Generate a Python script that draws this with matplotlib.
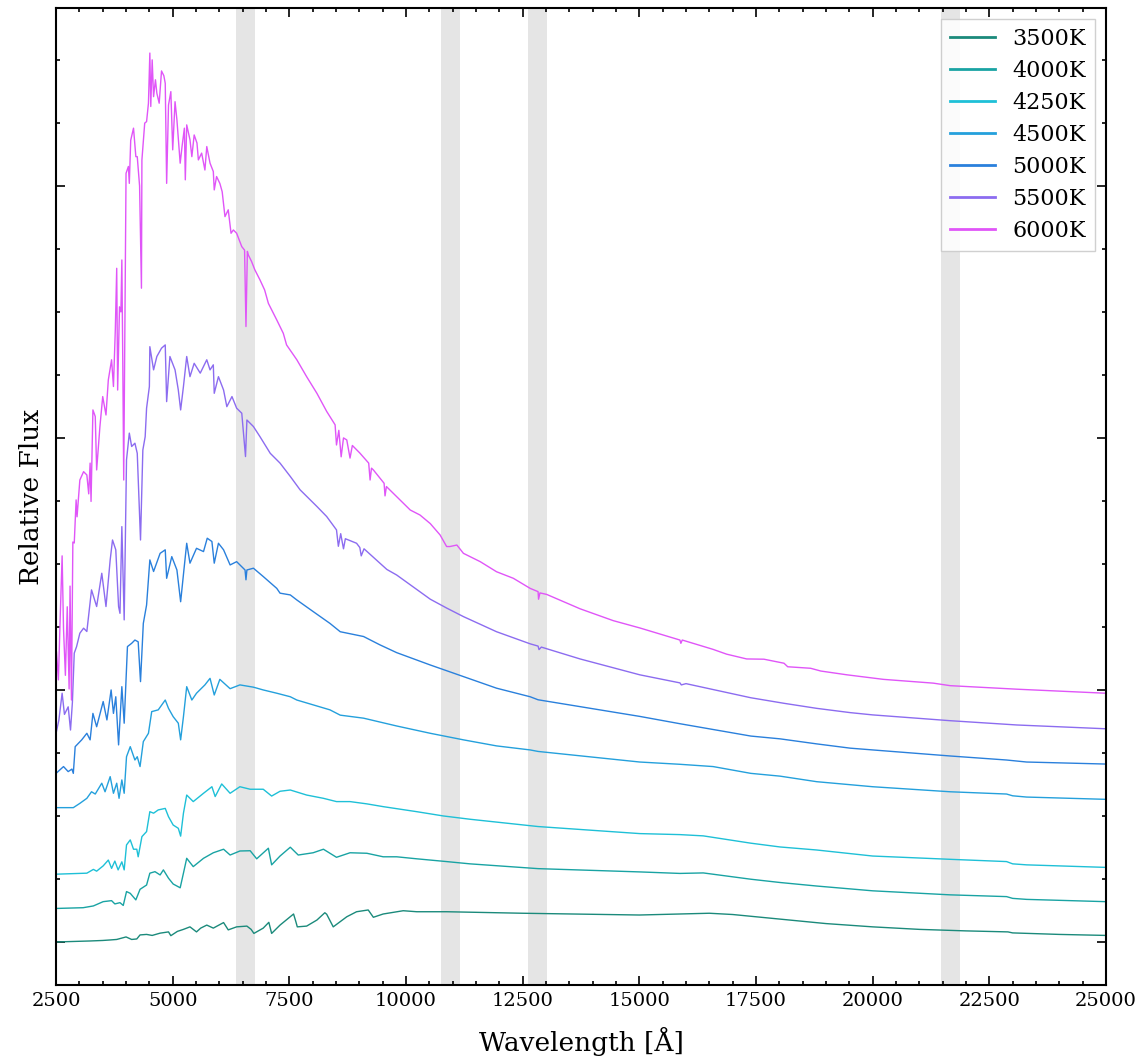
import matplotlib
matplotlib.use("Agg")
import matplotlib.pyplot as plt
from matplotlib.ticker import MultipleLocator, NullFormatter

plt.rcParams['font.family'] = ['DejaVu Serif']

# ---------------- data ----------------
labels = ["3500K", "4000K", "4250K", "4500K", "5000K", "5500K", "6000K"]
colors = ["#1b8a7b", "#19a3a3", "#1ec0d7", "#24a0dc", "#2a80dc", "#8c6cf0", "#e055f8"]

wl_3500 = [2500, 3230, 3500, 3660, 3800, 4000, 4120, 4230, 4300, 4440, 4560, 4730, 4910, 4960, 5100,
           5230, 5370, 5510, 5600, 5730, 5870, 6090, 6190, 6370, 6590, 6680, 6740, 6940, 7060, 7120,
           7300, 7590, 7640, 7670, 7870, 8090, 8260, 8300, 8440, 8730, 8940, 9190, 9300, 9510, 9940,
           10230, 10870, 12500, 15000, 16500, 17000, 18000, 19000, 20000, 21000, 22000, 22900, 23000,
           24000, 25000]
flux_3500 = [0.0, 0.004, 0.006, 0.008, 0.01, 0.02, 0.01, 0.012, 0.028, 0.03, 0.026, 0.035, 0.04, 0.025,
             0.042, 0.05, 0.06, 0.04, 0.055, 0.067, 0.055, 0.077, 0.048, 0.06, 0.063, 0.05, 0.034, 0.055,
             0.078, 0.034, 0.067, 0.111, 0.08, 0.06, 0.063, 0.087, 0.116, 0.11, 0.06, 0.10, 0.12, 0.127,
             0.098, 0.111, 0.124, 0.12, 0.12, 0.114, 0.107, 0.114, 0.109, 0.091, 0.073, 0.06, 0.05, 0.044,
             0.04, 0.036, 0.03, 0.026]

wl_4000 = [2500, 3080, 3300, 3510, 3690, 3760, 3870, 3940, 4010, 4090, 4210, 4300, 4440, 4510, 4620,
           4730, 4800, 4910, 5010, 5160, 5230, 5300, 5440, 5660, 5870, 6090, 6230, 6440, 6660, 6800,
           7050, 7120, 7300, 7520, 7690, 8010, 8230, 8510, 8800, 9160, 9510, 9800, 10230, 10870, 11370,
           12830, 15010, 15870, 16370, 17390, 18015, 18800, 20000, 21660, 22870, 23000, 23300, 24990]
flux_4000 = [0.133, 0.136, 0.143, 0.16, 0.164, 0.151, 0.156, 0.145, 0.2, 0.193, 0.167, 0.209, 0.226,
             0.273, 0.279, 0.266, 0.286, 0.253, 0.23, 0.215, 0.273, 0.332, 0.299, 0.332, 0.354, 0.368,
             0.345, 0.361, 0.362, 0.33, 0.372, 0.306, 0.341, 0.376, 0.345, 0.354, 0.368, 0.336, 0.354,
             0.352, 0.338, 0.338, 0.33, 0.319, 0.31, 0.291, 0.278, 0.272, 0.274, 0.249, 0.236, 0.222,
             0.203, 0.187, 0.18, 0.173, 0.169, 0.16]

wl_4250 = [2500, 3160, 3300, 3370, 3510, 3620, 3690, 3760, 3830, 3910, 3960, 4010, 4090, 4160, 4230,
           4260, 4340, 4440, 4510, 4590, 4690, 4840, 4910, 5010, 5120, 5170, 5230, 5300, 5440, 5660,
           5840, 5910, 6050, 6230, 6440, 6660, 6940, 7120, 7300, 7520, 7870, 8230, 8510, 8800, 9160,
           9510, 9870, 10230, 10800, 11370, 12830, 15010, 15870, 16370, 17390, 18015, 18800, 20000,
           21660, 22870, 23000, 23300, 24990]
flux_4250 = [0.269, 0.273, 0.288, 0.281, 0.302, 0.325, 0.292, 0.321, 0.286, 0.318, 0.286, 0.385, 0.405,
             0.368, 0.368, 0.338, 0.418, 0.438, 0.517, 0.511, 0.524, 0.53, 0.497, 0.464, 0.451, 0.42,
             0.511, 0.583, 0.557, 0.59, 0.616, 0.577, 0.627, 0.59, 0.616, 0.606, 0.606, 0.579, 0.598,
             0.603, 0.583, 0.57, 0.557, 0.557, 0.548, 0.537, 0.527, 0.517, 0.5, 0.487, 0.458, 0.43,
             0.426, 0.421, 0.392, 0.377, 0.365, 0.341, 0.328, 0.319, 0.31, 0.306, 0.296]

wl_4500 = [2500, 2870, 3010, 3160, 3260, 3340, 3480, 3550, 3660, 3730, 3800, 3850, 3910, 3960, 4010,
           4090, 4190, 4240, 4300, 4370, 4480, 4550, 4690, 4840, 4910, 5010, 5120, 5170, 5230, 5300,
           5410, 5510, 5690, 5800, 5890, 6010, 6230, 6440, 6730, 6940, 7230, 7520, 7660, 8370, 8590,
           9090, 9800, 10520, 11230, 11940, 12660, 12830, 15010, 15870, 16580, 17390, 18015, 18800,
           20000, 21660, 22870, 23000, 23300, 24990]
flux_4500 = [0.533, 0.533, 0.55, 0.57, 0.596, 0.587, 0.63, 0.596, 0.656, 0.59, 0.63, 0.57, 0.643, 0.59,
             0.735, 0.775, 0.722, 0.735, 0.696, 0.795, 0.828, 0.914, 0.921, 0.96, 0.927, 0.894, 0.868,
             0.802, 0.894, 1.013, 0.96, 0.987, 1.02, 1.046, 0.98, 1.042, 1.005, 1.02, 1.011, 1.0, 0.987,
             0.973, 0.96, 0.921, 0.9, 0.888, 0.857, 0.828, 0.802, 0.778, 0.762, 0.756, 0.714, 0.705,
             0.696, 0.669, 0.658, 0.636, 0.616, 0.596, 0.587, 0.58, 0.575, 0.566]

wl_5000 = [2500, 2660, 2760, 2840, 2870, 2910, 3050, 3160, 3230, 3290, 3370, 3510, 3590, 3680, 3730,
           3780, 3840, 3910, 3960, 4030, 4120, 4190, 4260, 4310, 4370, 4440, 4510, 4590, 4730, 4840,
           4870, 4980, 5090, 5170, 5240, 5300, 5370, 5510, 5660, 5740, 5840, 5890, 5980, 6090, 6230,
           6370, 6550, 6570, 6590, 6730, 6940, 7230, 7300, 7520, 7660, 8010, 8370, 8590, 9090, 9440,
           9800, 10520, 11230, 11940, 12660, 12830, 15010, 15870, 17390, 18015, 18800, 19520, 20000,
           21660, 22870, 23300, 24990]
flux_5000 = [0.669, 0.696, 0.676, 0.686, 0.669, 0.775, 0.802, 0.828, 0.802, 0.907, 0.854, 0.954, 0.881,
             1.0, 0.907, 0.973, 0.782, 1.013, 0.868, 1.172, 1.185, 1.198, 1.191, 1.033, 1.264, 1.337,
             1.516, 1.47, 1.542, 1.556, 1.443, 1.529, 1.476, 1.35, 1.476, 1.582, 1.503, 1.562, 1.549,
             1.602, 1.589, 1.503, 1.582, 1.556, 1.496, 1.509, 1.476, 1.437, 1.476, 1.483, 1.45, 1.403,
             1.384, 1.377, 1.357, 1.311, 1.264, 1.231, 1.212, 1.179, 1.148, 1.099, 1.053, 1.007, 0.973,
             0.961, 0.895, 0.866, 0.817, 0.806, 0.786, 0.769, 0.762, 0.738, 0.722, 0.714, 0.706]

wl_5500 = [2500, 2560, 2630, 2680, 2760, 2810, 2850, 2890, 2940, 3010, 3090, 3160, 3260, 3370, 3480,
           3570, 3660, 3710, 3780, 3840, 3870, 3910, 3960, 4010, 4070, 4120, 4190, 4240, 4310, 4360,
           4410, 4440, 4500, 4510, 4590, 4660, 4760, 4840, 4870, 4940, 5050, 5120, 5170, 5230, 5300,
           5370, 5460, 5590, 5730, 5800, 5870, 5890, 5980, 6090, 6160, 6270, 6370, 6480, 6560, 6590,
           6730, 6870, 7090, 7300, 7520, 7730, 8090, 8300, 8510, 8550, 8600, 8660, 8700, 8940, 9010,
           9040, 9100, 9440, 9590, 9800, 10520, 10870, 11230, 11940, 12660, 12830, 12850, 12900, 13730,
           15010, 15870, 15900, 16000, 17390, 18100, 18800, 19520, 20000, 21660, 23090, 24990]
flux_5500 = [0.828, 0.88, 0.987, 0.903, 0.933, 0.841, 0.95, 1.146, 1.172, 1.225, 1.245, 1.232, 1.397,
             1.331, 1.463, 1.331, 1.516, 1.595, 1.556, 1.331, 1.304, 1.648, 1.278, 1.913, 2.019, 1.966,
             1.979, 1.939, 1.595, 1.952, 2.005, 2.118, 2.204, 2.362, 2.27, 2.323, 2.356, 2.369, 2.144,
             2.323, 2.27, 2.19, 2.111, 2.204, 2.323, 2.243, 2.296, 2.257, 2.31, 2.27, 2.29, 2.177, 2.243,
             2.19, 2.124, 2.164, 2.118, 2.098, 1.926, 2.071, 2.045, 2.005, 1.939, 1.9, 1.847, 1.794,
             1.728, 1.688, 1.635, 1.57, 1.62, 1.56, 1.6, 1.582, 1.565, 1.532, 1.56, 1.503, 1.478, 1.456,
             1.36, 1.325, 1.291, 1.231, 1.183, 1.174, 1.16, 1.17, 1.123, 1.06, 1.028, 1.02, 1.025, 0.969,
             0.947, 0.927, 0.91, 0.901, 0.878, 0.861, 0.846]

wl_6000 = [2510, 2550, 2590, 2630, 2660, 2700, 2740, 2780, 2800, 2830,
           2860, 2890, 2930, 2950, 3010, 3090, 3160, 3200, 3230, 3250,
           3290, 3340, 3370, 3440, 3500, 3570, 3620, 3690, 3730, 3770,
           3800, 3820, 3860, 3890, 3910, 3930, 3950, 3970, 4000, 4050,
           4070, 4100, 4160, 4210, 4240, 4290, 4330, 4340, 4400, 4440,
           4480, 4510, 4530, 4560, 4590, 4630, 4660, 4710, 4760, 4810,
           4840, 4870, 4910, 4960, 5000, 5050, 5090, 5160, 5200, 5250,
           5270, 5300, 5370, 5410, 5460, 5520, 5550, 5620, 5690, 5730,
           5800, 5870, 5890, 5940, 6010, 6060, 6120, 6190, 6250, 6300,
           6370, 6480, 6540, 6570, 6600, 6620, 6690, 6760, 6870, 6970,
           7050, 7230, 7370, 7440, 7660, 7870, 8090, 8300, 8480, 8510,
           8560, 8610, 8660, 8730, 8800, 8850, 9010, 9200, 9230, 9260,
           9300, 9530, 9550, 9580, 9870, 10090, 10300, 10520, 10730, 10870,
           10940, 11090, 11230, 11590, 11940, 12300, 12660, 12830, 12840, 12870,
           13015, 13730, 14440, 15010, 15870, 15890, 15920, 16580, 16870, 17300,
           17670, 18100, 18180, 18670, 18890, 19450, 20230, 21300, 21660, 23090,
           24990]
flux_6000 = [1.15, 1.04, 1.294, 1.532, 1.242, 1.058, 1.33, 1.004, 1.412, 0.96,
             1.587, 1.583, 1.754, 1.687, 1.833, 1.866, 1.853, 1.778, 1.9, 1.748,
             2.111, 2.085, 1.873, 2.045, 2.164, 2.091, 2.23, 2.31, 2.204, 2.429,
             2.673, 2.19, 2.52, 2.50, 2.706, 2.3, 1.833, 2.3, 3.05, 3.077,
             3.01, 3.181, 3.229, 3.116, 3.116, 3.0, 2.594, 3.103, 3.249, 3.255,
             3.328, 3.527, 3.315, 3.5, 3.354, 3.421, 3.368, 3.328, 3.456, 3.437,
             3.407, 3.01, 3.321, 3.374, 3.143, 3.334, 3.262, 3.09, 3.156, 3.229,
             3.024, 3.242, 3.183, 3.116, 3.202, 3.17, 3.103, 3.13, 3.063, 3.156,
             3.09, 3.057, 2.984, 3.037, 3.01, 2.977, 2.878, 2.905, 2.812, 2.825,
             2.812, 2.759, 2.745, 2.442, 2.74, 2.726, 2.7, 2.667, 2.627, 2.587,
             2.534, 2.468, 2.415, 2.369, 2.31, 2.243, 2.177, 2.105, 2.052, 1.972,
             2.03, 1.925, 2.0, 1.992, 1.92, 1.97, 1.94, 1.9, 1.833, 1.88,
             1.873, 1.82, 1.77, 1.807, 1.754, 1.714, 1.694, 1.66, 1.615, 1.569,
             1.569, 1.575, 1.542, 1.509, 1.469, 1.443, 1.403, 1.39, 1.36, 1.385,
             1.379, 1.322, 1.275, 1.246, 1.198, 1.185, 1.198, 1.161, 1.142, 1.123,
             1.122, 1.106, 1.092, 1.086, 1.075, 1.06, 1.042, 1.027, 1.017, 1.003,
             0.987]

# shaded wavelength windows (start, end) in Angstrom
band_start = [6360, 10750, 12620, 21470]
band_end = [6760, 11150, 13020, 21870]

wavelengths = [wl_3500, wl_4000, wl_4250, wl_4500, wl_5000, wl_5500, wl_6000]
fluxes = [flux_3500, flux_4000, flux_4250, flux_4500, flux_5000, flux_5500, flux_6000]

# ---------------- figure ----------------
fig = plt.figure(figsize=(11.37, 10.59), dpi=100)
ax = fig.add_axes([0.0493, 0.0699, 0.9234, 0.9226])

for s, e in zip(band_start, band_end):
    ax.axvspan(s, e, color="#e5e5e5", lw=0, zorder=0)

for wl, fl, lab, col in zip(wavelengths, fluxes, labels, colors):
    ax.plot(wl, fl, color=col, lw=1.0, label=lab, zorder=2)

ax.set_xlim(2500, 25000)
ax.set_ylim(-0.1706, 3.706)

ax.xaxis.set_major_locator(MultipleLocator(2500))
ax.xaxis.set_minor_locator(MultipleLocator(500))
ax.yaxis.set_major_locator(MultipleLocator(1.0))
ax.yaxis.set_minor_locator(MultipleLocator(0.25))
ax.yaxis.set_major_formatter(NullFormatter())

ax.tick_params(which="both", direction="in", top=True, right=True, width=1.2)
ax.tick_params(which="major", length=6.5, labelsize=14, pad=5)
ax.tick_params(which="minor", length=3.2)
for sp in ax.spines.values():
    sp.set_linewidth(1.5)

ax.set_xlabel("Wavelength [Å]", fontsize=19, labelpad=12)
ax.set_ylabel("Relative Flux", fontsize=19, labelpad=4)

leg = ax.legend(loc="upper right", fontsize=16, fancybox=False, edgecolor="#c8c8c8",
                framealpha=0.85, borderaxespad=0.5, labelspacing=0.45)
for ln in leg.get_lines():
    ln.set_linewidth(2.0)

fig.savefig("out.png", dpi=100)
